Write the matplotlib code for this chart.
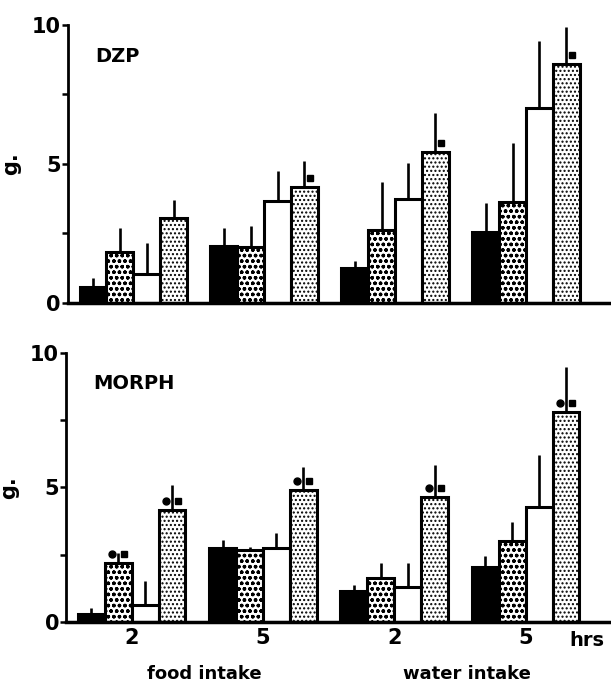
import numpy as np
import matplotlib
matplotlib.use("Agg")
from matplotlib import pyplot as plt

# groups: food 2 h, food 5 h, water 2 h, water 5 h
group_labels = ["2", "5", "2", "5"]
section_labels = ["food intake", "water intake"]

# DZP panel: mean and SEM for the four treatment bars in each group
dzp_black = [0.55, 2.05, 1.25, 2.55]
dzp_black_sem = [0.35, 0.65, 0.25, 1.05]
dzp_dotted = [1.83, 2.0, 2.63, 3.63]
dzp_dotted_sem = [0.87, 0.77, 1.73, 2.13]
dzp_white = [1.04, 3.67, 3.74, 7.0]
dzp_white_sem = [1.11, 1.08, 1.29, 2.4]
dzp_stipple = [3.06, 4.17, 5.43, 8.6]
dzp_stipple_sem = [0.64, 0.93, 1.4, 1.3]

# MORPH panel
morph_black = [0.3, 2.75, 1.15, 2.04]
morph_black_sem = [0.22, 0.3, 0.22, 0.41]
morph_dotted = [2.19, 2.68, 1.64, 3.01]
morph_dotted_sem = [0.38, 0.12, 0.55, 0.71]
morph_white = [0.63, 2.75, 1.3, 4.28]
morph_white_sem = [0.89, 0.55, 0.89, 1.92]
morph_stipple = [4.16, 4.9, 4.65, 7.8]
morph_stipple_sem = [0.93, 0.86, 1.19, 1.68]

# significance marks (dot = first symbol, square = second) per bar
dzp_square = [[0, 0, 0, 0], [0, 0, 0, 0], [0, 0, 0, 0], [0, 1, 1, 1]]
dzp_dot = [[0, 0, 0, 0], [0, 0, 0, 0], [0, 0, 0, 0], [0, 0, 0, 0]]
morph_square = [[0, 0, 0, 0], [1, 0, 0, 0], [0, 0, 0, 0], [1, 1, 1, 1]]
morph_dot = [[0, 0, 0, 0], [1, 0, 0, 0], [0, 0, 0, 0], [1, 1, 1, 1]]

plt.rcParams["font.family"] = "DejaVu Sans"
plt.rcParams["font.weight"] = "bold"
plt.rcParams["hatch.linewidth"] = 1.0

styles = [
    dict(color="black", hatch=None),
    dict(color="white", hatch="ooo"),
    dict(color="white", hatch=None),
    dict(color="white", hatch="...."),
]

w = 0.205
x = np.arange(4)
offsets = [-1.5 * w, -0.5 * w, 0.5 * w, 1.5 * w]


def draw_panel(ax, name, series, sems, squares, dots):
    for k, (vals, sem, st) in enumerate(zip(series, sems, styles)):
        xs = x + offsets[k]
        vals = np.array(vals)
        ax.vlines(xs, vals, vals + np.array(sem), color="black", lw=1.9, zorder=1)
        ax.bar(xs, vals, width=w, facecolor=st["color"], edgecolor="black",
               hatch=st["hatch"], linewidth=2.2, zorder=2)
        for j in range(4):
            if squares[k][j]:
                ax.plot(xs[j] + 0.045, vals[j] + 0.32, marker="s", ms=4.5,
                        color="black", zorder=3, clip_on=False)
            if dots[k][j]:
                ax.plot(xs[j] - 0.045, vals[j] + 0.32, marker="o", ms=5,
                        color="black", zorder=3, clip_on=False)

    ax.set_xlim(-0.5, 3.65)
    ax.set_ylim(0, 10)
    ax.spines["top"].set_visible(False)
    ax.spines["right"].set_visible(False)
    ax.spines["left"].set_linewidth(2.0)
    ax.spines["bottom"].set_linewidth(2.5)
    ax.set_yticks([0, 2.5, 5, 7.5, 10])
    ax.set_yticklabels(["0", "", "5", "", "10"])
    ax.tick_params(axis="y", length=4, width=1.8, labelsize=15, pad=1)
    ax.set_ylabel("g.", fontsize=15, fontweight="bold", labelpad=8)
    ax.text(-0.29, 8.85, name, fontsize=14, fontweight="bold", ha="left", va="center")


fig = plt.figure(figsize=(6.11, 6.85), dpi=100)
ax1 = fig.add_axes([0.111, 0.558, 0.889, 0.406])
ax2 = fig.add_axes([0.108, 0.092, 0.892, 0.393])

draw_panel(ax1, "DZP",
           [dzp_black, dzp_dotted, dzp_white, dzp_stipple],
           [dzp_black_sem, dzp_dotted_sem, dzp_white_sem, dzp_stipple_sem],
           dzp_square, dzp_dot)
ax1.set_xticks([])

draw_panel(ax2, "MORPH",
           [morph_black, morph_dotted, morph_white, morph_stipple],
           [morph_black_sem, morph_dotted_sem, morph_white_sem, morph_stipple_sem],
           morph_square, morph_dot)
ax2.set_xticks(x)
ax2.set_xticklabels(group_labels)
ax2.tick_params(axis="x", length=0, labelsize=15, pad=4)
ax2.text(3.47, -0.67, "hrs", fontsize=14, fontweight="bold", ha="center", va="center")
ax2.text(0.55, -1.95, section_labels[0], fontsize=13, fontweight="bold", ha="center", va="center")
ax2.text(2.55, -1.95, section_labels[1], fontsize=13, fontweight="bold", ha="center", va="center")

fig.savefig("out.png", dpi=100)
